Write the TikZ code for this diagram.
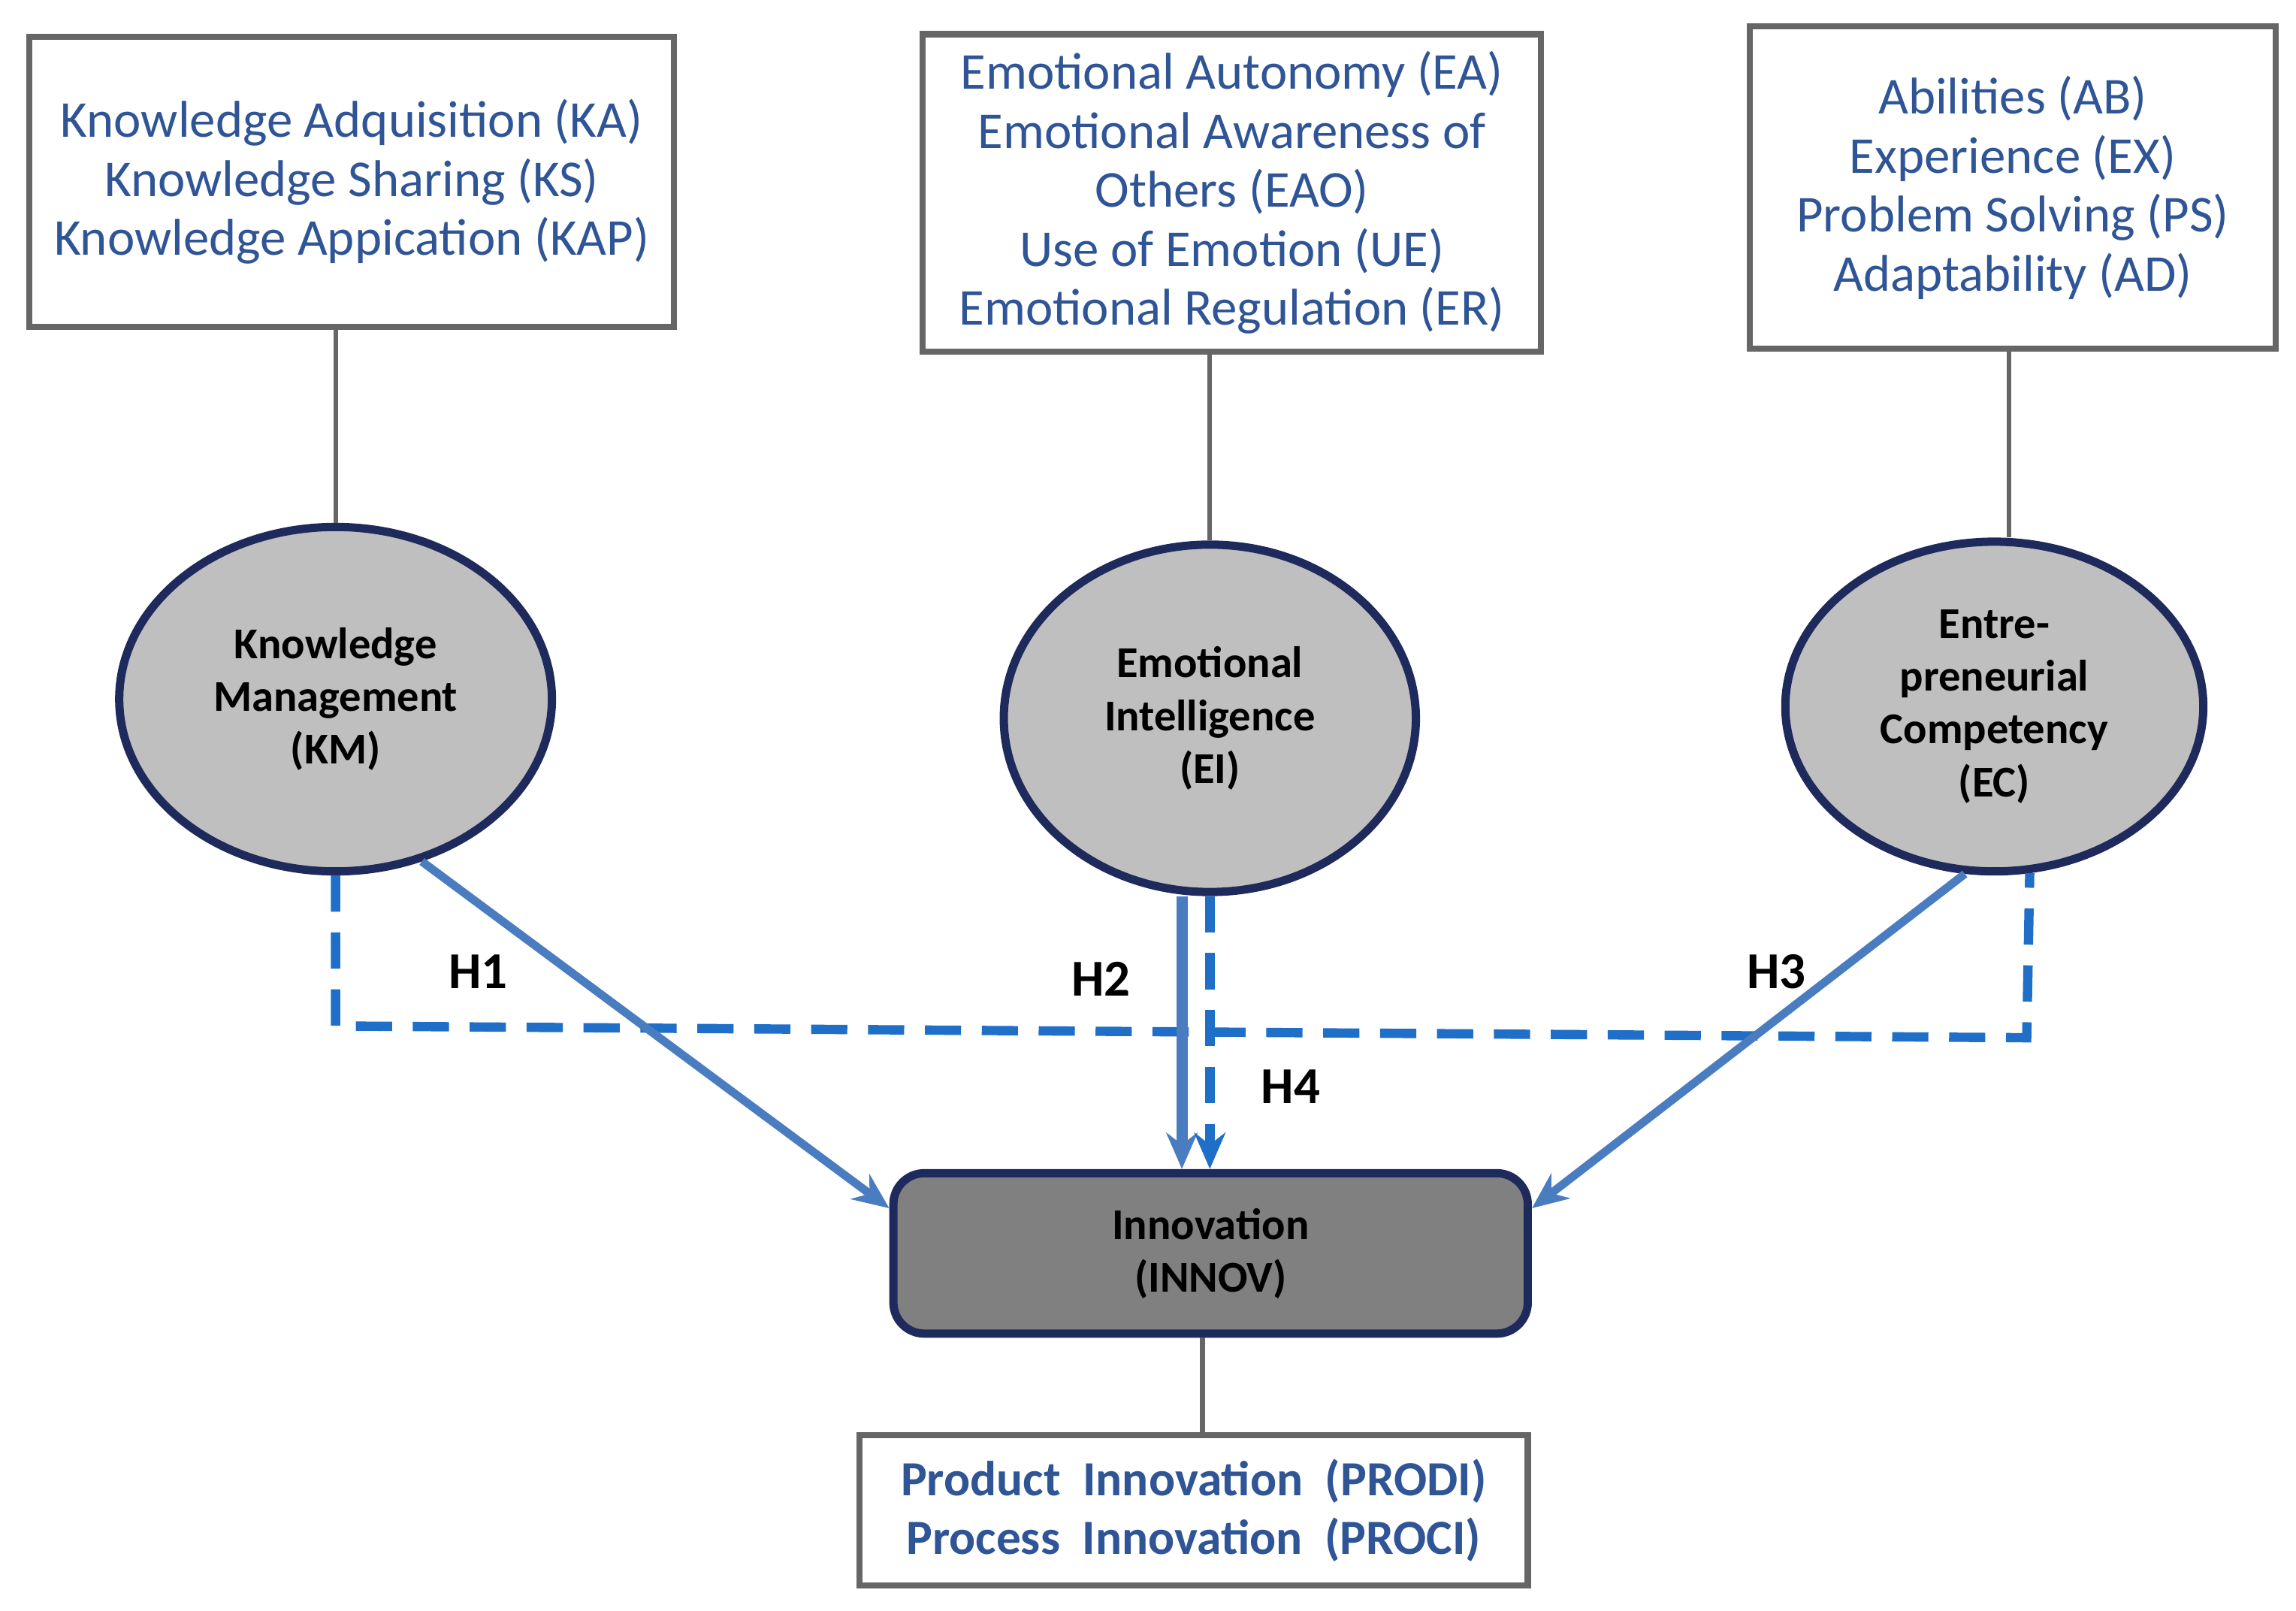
\documentclass[tikz,border=0pt]{standalone}
\usepackage{fontspec}
\setmainfont{Carlito}
\usetikzlibrary{shapes.geometric,arrows.meta,calc}
\definecolor{txtblue}{HTML}{2F5597}
\definecolor{arrblue}{HTML}{4A7CC0}
\definecolor{dashblue}{HTML}{1F6FC8}
\definecolor{navy}{HTML}{1F2A5C}
\tikzset{
  tbox/.style={draw=black!60, line width=1.2pt, fill=white, align=center, text=txtblue, font=\fontsize{10}{11.4}\selectfont},
  lat/.style={ellipse, draw=navy, line width=1.6pt, fill=black!25, align=center, font=\bfseries\fontsize{8.5}{10.2}\selectfont},
  plain/.style={draw=black!60, line width=0.9pt},
  arr/.style={draw=arrblue, line width=1.6pt, -{Stealth[length=7pt,width=6pt]}},
  dsh/.style={draw=dashblue, line width=1.8pt, dash pattern=on 7pt off 4pt},
  hlab/.style={font=\bfseries\fontsize{10}{12}\selectfont}
}
\begin{document}
\begin{tikzpicture}
\useasboundingbox (0,0) rectangle (15.6,-10.944);
\node[tbox, minimum width=4.38cm, minimum height=1.97cm] (b1) at (2.39,-1.235)
  {Knowledge Adquisition (KA)\\Knowledge Sharing (KS)\\Knowledge Appication (KAP)};
\node[tbox, minimum width=4.2cm, minimum height=2.12cm] (b2) at (8.37,-1.31)
  {Emotional Autonomy (EA)\\Emotional Awareness of\\Others (EAO)\\Use of Emotion (UE)\\Emotional Regulation (ER)};
\node[tbox, minimum width=3.57cm, minimum height=2.19cm] (b3) at (13.675,-1.275)
  {Abilities (AB)\\Experience (EX)\\Problem Solving (PS)\\Adaptability (AD)};
\node[lat, minimum width=2.94cm, minimum height=2.34cm] (km) at (2.28,-4.75)
  {Knowledge\\Management\\(KM)};
\node[lat, minimum width=2.8cm, minimum height=2.36cm] (ei) at (8.22,-4.88)
  {Emotional\\Intelligence\\(EI)};
\node[lat, minimum width=2.84cm, minimum height=2.24cm] (ec) at (13.55,-4.8)
  {Entre-\\preneurial\\Competency\\(EC)};
\node[draw=navy, line width=1.6pt, fill=black!50, rounded corners=6pt, minimum width=4.31cm, minimum height=1.09cm, align=center, font=\bfseries\fontsize{8.5}{10.2}\selectfont] (inn) at (8.225,-8.515)
  {Innovation\\(INNOV)};
\node[tbox, font=\bfseries\fontsize{9.5}{11.4}\selectfont, minimum width=4.54cm, minimum height=1.02cm] (b4) at (8.11,-10.26)
  {Product\ \ Innovation\ \ (PRODI)\\Process\ \ Innovation\ \ (PROCI)};
\draw[plain] (b1.south -| km) -- (km.north);
\draw[plain] (b2.south -| ei) -- (ei.north);
\draw[plain] (13.65,-2.37) coordinate (t3) -- (t3 |- ec.north);
\draw[plain] (inn.south -| 8.17,0) -- (b4.north -| 8.17,0);
\draw[dsh] (km.south) -- (2.28,-6.97) -- (13.77,-7.05) -- (ec.-78);
\draw[arr] (km.-62) -- (inn.172);
\draw[arr] (ec.-100) -- (inn.8);
\draw[arr, line width=2.2pt] (ei.south -| 8.03,0) -- (inn.north -| 8.03,0);
\draw[dsh, -{Stealth[length=7pt,width=6pt]}] (ei.south -| 8.22,0) -- (inn.north -| 8.22,0);
\node[hlab] (h1) at (3.25,-6.6) {H1};
\node[hlab] (h2) at (7.48,-6.65) {H2};
\node[hlab] (h3) at (12.07,-6.6) {H3};
\node[hlab] (h4) at (8.77,-7.38) {H4};
\end{tikzpicture}
\end{document}
